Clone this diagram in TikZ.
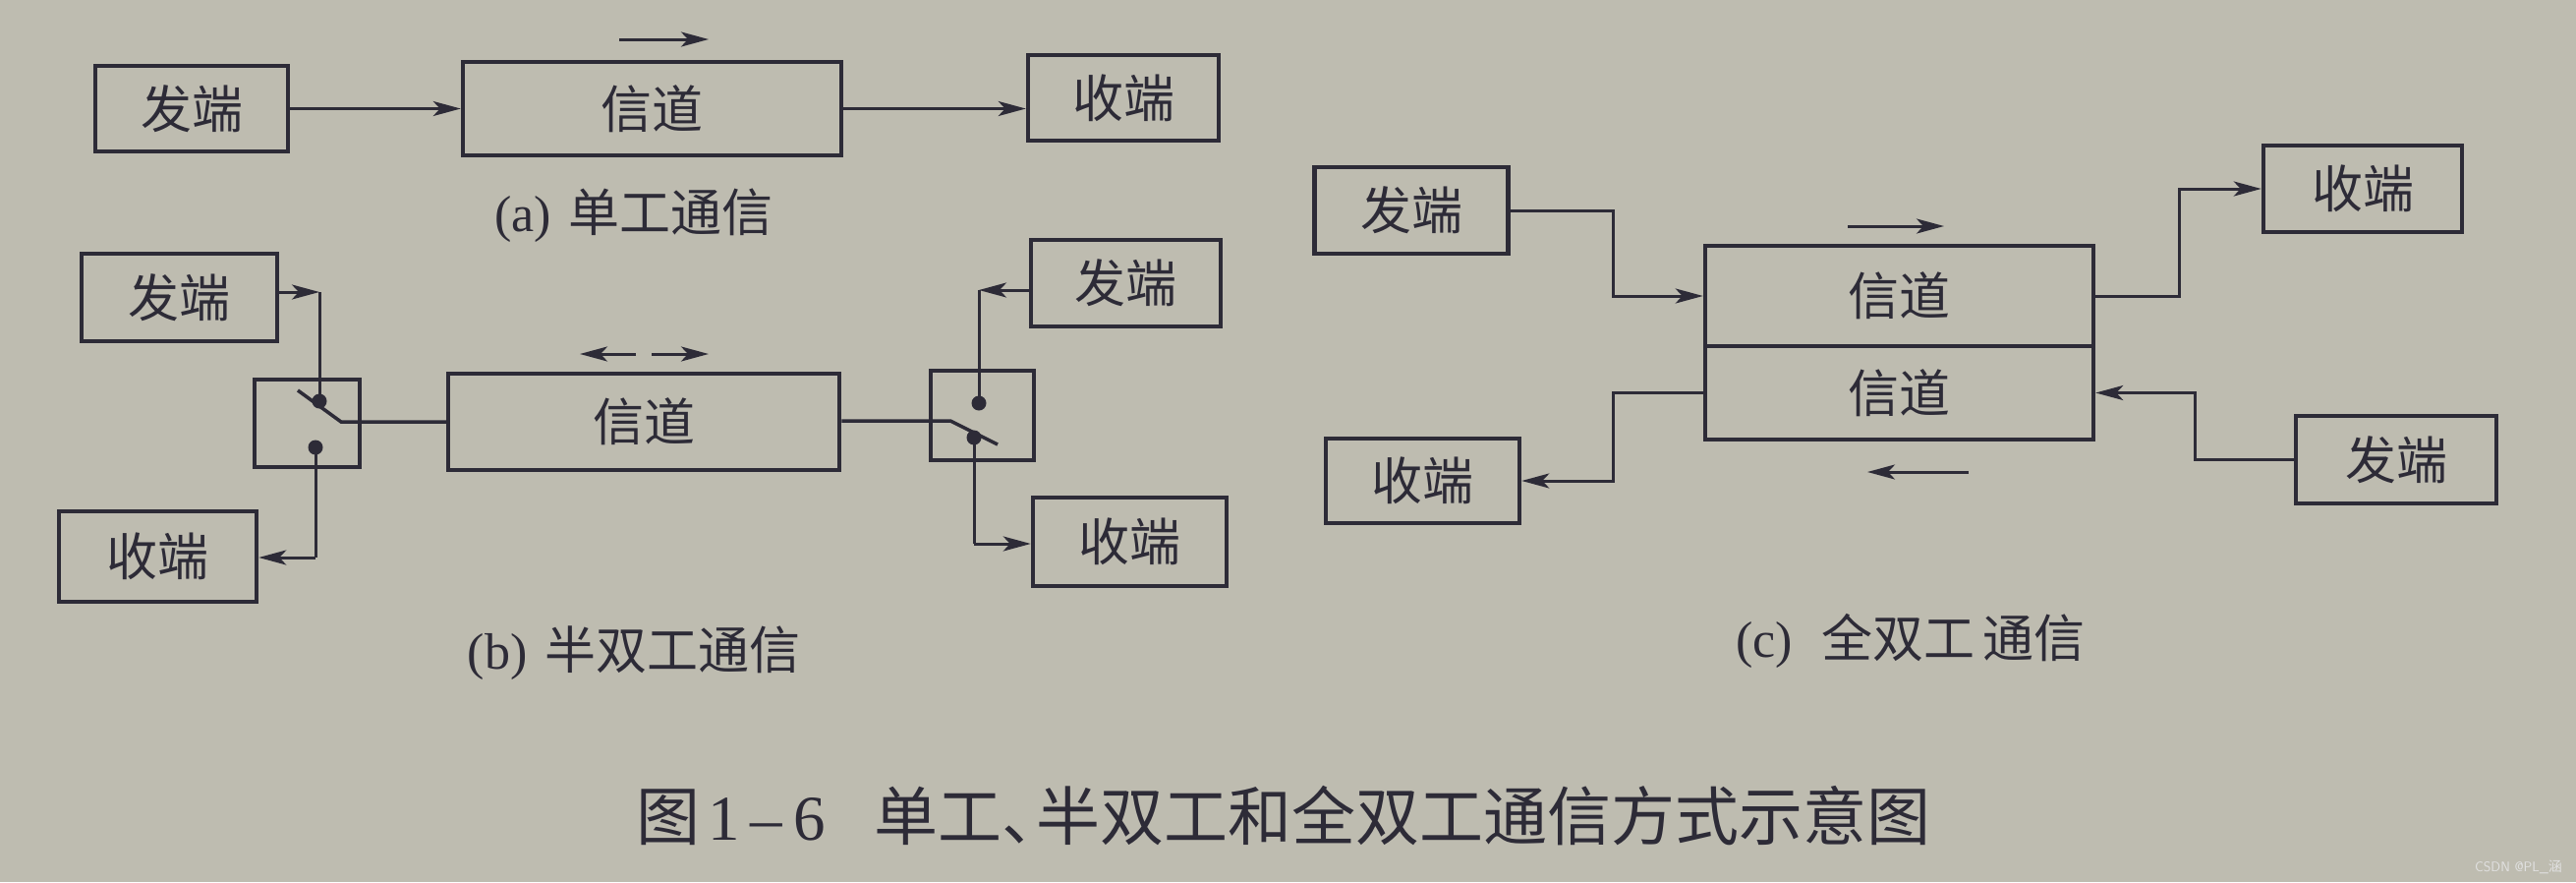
\documentclass[tikz,border=0pt]{standalone}
\usepackage{fontspec}
\setmainfont{Liberation Serif}
\newfontfamily\cjk{Noto Sans CJK SC}
\usetikzlibrary{arrows.meta,calc}
\definecolor{bgc}{RGB}{190,188,176}
\definecolor{ink}{RGB}{45,43,55}
\definecolor{wm}{RGB}{225,225,225}
\begin{document}
\begin{tikzpicture}[x=1pt,y=-1pt,
  blk/.style={draw=ink,line width=4.5pt,inner sep=0pt,font=\cjk\fontsize{52}{60}\selectfont,text=ink},
  wire/.style={draw=ink,line width=3pt},
  lever/.style={draw=ink,line width=3.5pt},
  arr/.style={wire,-{Stealth[length=28pt,width=15pt,inset=7pt]}},
  dot/.style={circle,fill=ink,inner sep=0pt,minimum size=15pt},
  lbl/.style={text=ink,font=\fontsize{52}{60}\selectfont,inner sep=0pt},
]
\fill[bgc] (0,0) rectangle (2621,897);
\useasboundingbox (0,0) rectangle (2621,897);

% ---------- (a) simplex ----------
\node[blk,minimum width=196pt,minimum height=87pt] (aS) at (195,110.5) {发端};
\node[blk,minimum width=385pt,minimum height=95pt] (aC) at (663.5,110.5) {信道};
\node[blk,minimum width=194pt,minimum height=87pt] (aR) at (1143,99.5) {收端};
\draw[arr] (aS.east) -- (aC.west);
\draw[arr] (aC.east) -- (aC.east -| aR.west);
\coordinate (ad1) at (630,40);
\coordinate (ad2) at (721,40);
\draw[arr] (ad1) -- (ad2);
\node[lbl] (la) at (645,219) {(a)\hspace{18pt}{\cjk 单工通信}};

% ---------- (b) half duplex ----------
\node[blk,minimum width=199pt,minimum height=89pt] (bS) at (182.5,302.5) {发端};
\node[blk,minimum width=201pt,minimum height=92pt] (bR) at (160.5,566) {收端};
\node[blk,minimum width=107pt,minimum height=89pt] (bW) at (312.5,430.5) {};
\node[blk,minimum width=398pt,minimum height=98pt] (bC) at (655,429) {信道};
\node[blk,minimum width=105pt,minimum height=91pt] (bW2) at (999.5,422.5) {};
\node[blk,minimum width=193pt,minimum height=88pt] (bS2) at (1145.5,288) {发端};
\node[blk,minimum width=197pt,minimum height=90pt] (bR2) at (1149.5,551) {收端};

% left switch
\node[dot] (u1) at (325,408) {};
\node[dot] (l1) at (321,455) {};
\coordinate (k1) at (325,297);
\coordinate (k2) at (321,567);
\coordinate (p1) at (347,429);
\coordinate (e1) at (303,397);
\draw[arr] (bS.east |- k1) -- (k1);
\draw[wire] (k1) -- (u1.center);
\draw[lever] (e1) -- (p1) -- (p1 -| bC.west);
\draw[wire] (l1.center) -- (k2);
\draw[arr] (k2) -- (k2 -| bR.east);

% right switch
\node[dot] (u2) at (996,410) {};
\node[dot] (l2) at (991,445) {};
\coordinate (k3) at (996,295);
\coordinate (k4) at (991,553);
\coordinate (p2) at (967,428);
\coordinate (e2) at (1015,452);
\draw[arr] (bS2.west |- k3) -- (k3);
\draw[wire] (k3) -- (u2.center);
\draw[lever] (bC.east |- p2) -- (p2) -- (e2);
\draw[wire] (l2.center) -- (k4);
\draw[arr] (k4) -- (k4 -| bR2.west);

\coordinate (bd1) at (647,360);
\coordinate (bd2) at (590,360);
\coordinate (bd3) at (663,360);
\coordinate (bd4) at (721,360);
\draw[arr] (bd1) -- (bd2);
\draw[arr] (bd3) -- (bd4);
\node[lbl] (lb) at (645,664) {(b)\hspace{18pt}{\cjk 半双工通信}};

% ---------- (c) full duplex ----------
\node[blk,minimum width=197pt,minimum height=88pt] (cS) at (1436,214) {发端};
\node[blk,minimum width=202pt,minimum height=88pt] (cR) at (2404,192) {收端};
\node[blk,minimum width=395pt,minimum height=102pt] (cC1) at (1932.5,301) {信道};
\node[blk,minimum width=395pt,minimum height=95pt] (cC2) at (1932.5,399.5) {信道};
\node[blk,minimum width=197pt,minimum height=86pt] (cR2) at (1447.5,489) {收端};
\node[blk,minimum width=204pt,minimum height=89pt] (cS2) at (2438,467.5) {发端};
\coordinate (m1) at (1641,0);
\coordinate (m2) at (2217,0);
\coordinate (m3) at (2233,0);
\draw[arr] (cS.east) -| (m1 |- cC1.west) -- (cC1.west);
\draw[arr] (cC1.east) -| (m2 |- cR.west) -- (cR.west);
\draw[arr] (cS2.west) -| (m3 |- cC2.east) -- (cC2.east);
\draw[arr] (cC2.west) -| (m1 |- cR2.east) -- (cR2.east);
\coordinate (cd1) at (1880,230);
\coordinate (cd2) at (1978,230);
\coordinate (cd3) at (2003,480);
\coordinate (cd4) at (1900,480);
\draw[arr] (cd1) -- (cd2);
\draw[arr] (cd3) -- (cd4);
\node[lbl] (lc) at (1944,652) {(c)\hspace{30pt}{\cjk 全双工\hspace{8pt}通信}};

% ---------- caption ----------
\node[lbl,font=\fontsize{65}{72}\selectfont] (cap) at (1306,830)
  {{\cjk 图}\hspace{8pt}1\,–\,6\hspace{50pt}{\cjk 单工、\kern-30pt 半双工和全双工通信方式示意图}};

\node[text=wm,font=\sffamily\fontsize{14}{16}\selectfont,anchor=east,inner sep=0pt] (wmk) at (2607,882) {CSDN @PL\_{\cjk 涵}};
\end{tikzpicture}
\end{document}
